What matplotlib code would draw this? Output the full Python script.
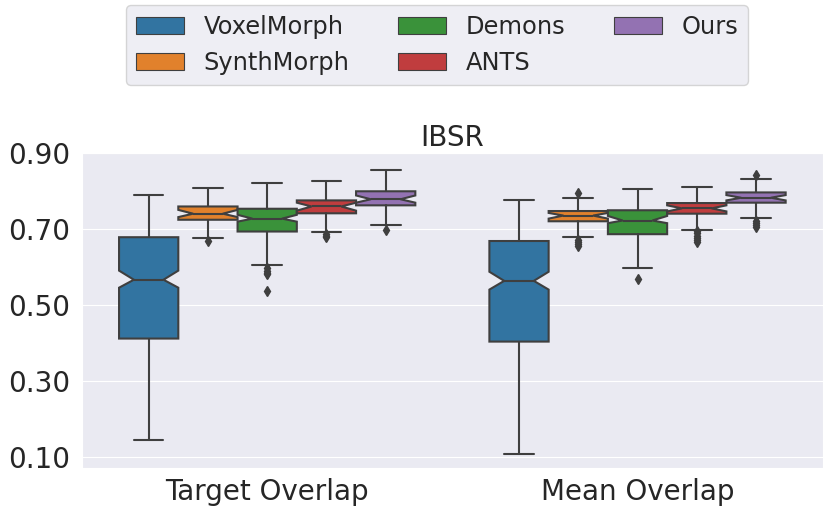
import matplotlib
matplotlib.use('Agg')
import matplotlib.pyplot as plt
import matplotlib.patches as mpatches
import seaborn as sns

sns.set_style('darkgrid')
plt.rcParams['font.family'] = ['DejaVu Sans']

# 데이터
metrics = ['Target Overlap', 'Mean Overlap']
methods = ['VoxelMorph', 'SynthMorph', 'Demons', 'ANTS', 'Ours']
colors = ['#3274a1', '#e1812c', '#3a923a', '#c03d3e', '#9372b2']

# 순서: [Target Overlap, Mean Overlap]
whis_lo = {'VoxelMorph': [0.144, 0.106], 'SynthMorph': [0.675, 0.678], 'Demons': [0.604, 0.597],
           'ANTS': [0.692, 0.698], 'Ours': [0.709, 0.729]}
q1 = {'VoxelMorph': [0.411, 0.403], 'SynthMorph': [0.724, 0.720], 'Demons': [0.693, 0.686],
      'ANTS': [0.741, 0.740], 'Ours': [0.762, 0.769]}
cilo = {'VoxelMorph': [0.545, 0.540], 'SynthMorph': [0.731, 0.727], 'Demons': [0.719, 0.715],
        'ANTS': [0.748, 0.746], 'Ours': [0.769, 0.775]}
median = {'VoxelMorph': [0.566, 0.563], 'SynthMorph': [0.740, 0.735], 'Demons': [0.727, 0.722],
          'ANTS': [0.759, 0.754], 'Ours': [0.778, 0.782]}
cihi = {'VoxelMorph': [0.590, 0.587], 'SynthMorph': [0.750, 0.742], 'Demons': [0.737, 0.734],
        'ANTS': [0.769, 0.762], 'Ours': [0.788, 0.789]}
q3 = {'VoxelMorph': [0.678, 0.668], 'SynthMorph': [0.759, 0.747], 'Demons': [0.753, 0.749],
      'ANTS': [0.775, 0.768], 'Ours': [0.799, 0.796]}
whis_hi = {'VoxelMorph': [0.789, 0.776], 'SynthMorph': [0.808, 0.781], 'Demons': [0.821, 0.804],
           'ANTS': [0.827, 0.811], 'Ours': [0.854, 0.831]}
fliers = {'VoxelMorph': [[], []],
          'SynthMorph': [[0.668], [0.795, 0.671, 0.665, 0.660, 0.655]],
          'Demons': [[0.596, 0.590, 0.585, 0.581, 0.535], [0.567]],
          'ANTS': [[0.687, 0.682, 0.678], [0.694, 0.688, 0.682, 0.676, 0.670, 0.665]],
          'Ours': [[0.697], [0.843, 0.722, 0.716, 0.710, 0.705]]}

yticks = [0.10, 0.30, 0.50, 0.70, 0.90]

fig = plt.figure(figsize=(8.31, 5.15), dpi=100)
ax = fig.add_axes([0.0987, 0.0913, 0.8913, 0.6117])

line_c = '#3f3f3f'
bw = 0.16
for j, m in enumerate(methods):
    stats = []
    pos = []
    for i in range(len(metrics)):
        stats.append({'med': median[m][i], 'q1': q1[m][i], 'q3': q3[m][i],
                      'whislo': whis_lo[m][i], 'whishi': whis_hi[m][i],
                      'cilo': cilo[m][i], 'cihi': cihi[m][i], 'fliers': fliers[m][i]})
        pos.append(i + (j - 2) * bw)
    ax.bxp(stats, positions=pos, widths=bw, shownotches=True, patch_artist=True,
           boxprops=dict(facecolor=colors[j], edgecolor=line_c, linewidth=1.5),
           medianprops=dict(color=line_c, linewidth=1.5),
           whiskerprops=dict(color=line_c, linewidth=1.5),
           capprops=dict(color=line_c, linewidth=1.5),
           flierprops=dict(marker='d', markerfacecolor=line_c, markeredgecolor=line_c,
                           markersize=5))

ax.set_xlim(-0.5, 1.5)
ax.set_ylim(0.07, 0.90)
ax.set_xticks(range(len(metrics)))
ax.set_xticklabels(metrics, fontsize=20)
ax.set_yticks(yticks)
ax.set_yticklabels([f'{v:.2f}' for v in yticks], fontsize=20)
ax.tick_params(axis='y', pad=5)
ax.tick_params(axis='x', pad=4)
ax.grid(False, axis='x')
ax.set_title('IBSR', fontsize=20, pad=5)

handles = [mpatches.Patch(facecolor=c, edgecolor=line_c, linewidth=0.8, label=m)
           for c, m in zip(colors, methods)]
fig.legend(handles=handles, loc='upper center', bbox_to_anchor=(0.526, 1.013),
           ncol=3, fontsize=17.4)

fig.savefig('out.png', dpi=100)
